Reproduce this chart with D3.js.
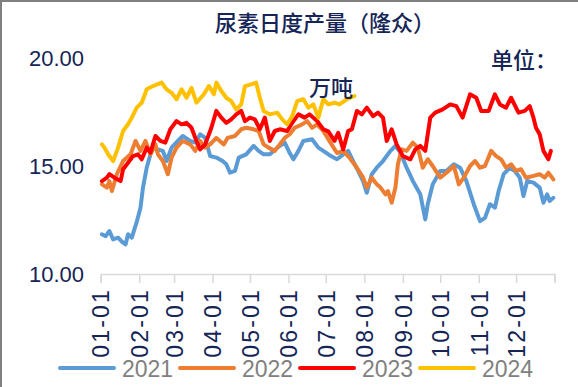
<!DOCTYPE html>
<html>
<head>
<meta charset="utf-8">
<script src="https://cdn.jsdelivr.net/npm/d3@7"></script>
<style>
  body { margin: 0; background: #fff; }
  svg { display: block; font-family: "Liberation Sans", Arial, "Noto Sans CJK SC", sans-serif; }
</style>
</head>
<body>
<svg id="chart" width="578" height="387"></svg>
<script>
// day-of-year readings, [day, value] (万吨)
const s2021 = [[1,11.84],[4,11.75],[7,11.99],[10,11.6],[14,11.68],[17,11.5],[20,11.37],[22,11.84],[25,11.68],[29,12.42],[32,13.07],[34,14.0],[37,14.92],[40,15.54],[42,15.85],[46,15.77],[50,15.7],[53,15.23],[57,15.85],[62,16.16],[66,16.39],[72,16.16],[76,16.08],[80,16.47],[84,16.3],[88,15.46],[93,15.39],[98,15.23],[101,15.08],[104,14.69],[108,14.77],[111,15.39],[117,15.54],[123,15.93],[127,15.7],[131,15.54],[136,15.54],[142,15.85],[148,16.08],[152,15.6],[155,15.31],[159,15.7],[163,16.16],[170,16.24],[175,15.85],[179,15.7],[184,15.5],[190,15.31],[195,15.54],[199,15.7],[203,15.23],[207,14.77],[211,14.3],[214,13.76],[218,14.62],[222,14.92],[227,15.23],[233,15.7],[237,15.93],[241,15.62],[246,14.92],[251,14.31],[257,13.69],[261,12.53],[263,13.23],[267,14.15],[273,14.77],[278,14.77],[284,15.08],[289,14.92],[294,14.31],[300,13.23],[305,12.45],[309,12.6],[313,13.23],[317,13.07],[320,13.84],[324,14.62],[329,14.92],[333,14.77],[337,14.46],[340,13.61],[343,14.31],[348,14.23],[353,14.0],[356,13.3],[359,13.69],[361,13.38],[364,13.53]];
const s2022 = [[1,14.15],[5,14.0],[7,14.3],[9,13.84],[13,14.62],[18,15.23],[24,15.54],[28,16.16],[32,15.7],[36,16.16],[40,15.54],[44,16.0],[46,15.54],[50,15.23],[54,14.62],[57,15.39],[61,15.85],[66,16.16],[72,16.0],[76,15.7],[80,16.16],[84,15.85],[88,16.0],[93,16.3],[99,16.0],[102,16.3],[108,16.39],[113,16.7],[117,16.77],[123,16.7],[127,16.62],[131,16.0],[135,15.85],[140,15.7],[144,16.0],[148,16.3],[152,16.47],[156,16.77],[162,16.93],[166,17.08],[170,16.77],[174,16.93],[179,16.62],[184,16.15],[190,15.6],[195,15.7],[200,15.39],[206,14.92],[211,14.46],[214,14.0],[218,14.46],[222,14.15],[225,14.0],[229,13.69],[231,13.84],[234,13.3],[237,14.0],[239,15.08],[242,15.77],[246,15.7],[251,16.08],[255,15.85],[259,14.92],[263,15.31],[267,15.0],[273,14.46],[278,14.69],[284,15.0],[288,14.15],[292,14.46],[297,15.0],[301,15.23],[305,14.92],[309,15.0],[314,15.7],[318,15.46],[322,15.31],[326,14.92],[330,15.08],[334,14.77],[338,14.85],[342,14.46],[348,14.54],[353,14.62],[357,14.46],[360,14.69],[364,14.38]];
const s2023 = [[1,14.3],[5,14.46],[7,14.62],[11,14.46],[16,14.3],[18,14.85],[22,15.15],[26,15.46],[30,15.54],[33,15.31],[37,15.85],[40,15.62],[44,16.39],[48,16.16],[52,16.08],[56,16.7],[61,17.08],[65,16.93],[69,17.0],[73,16.77],[77,16.16],[80,15.77],[84,16.0],[89,16.77],[93,17.55],[97,17.24],[101,17.0],[105,17.16],[109,17.39],[113,17.55],[116,17.08],[120,17.24],[124,17.16],[128,16.7],[132,17.24],[136,16.16],[140,16.62],[144,16.7],[150,16.62],[154,17.0],[159,17.39],[164,17.24],[168,17.39],[174,17.08],[179,16.7],[183,16.6],[188,16.16],[191,16.54],[195,15.77],[199,16.62],[202,16.7],[206,17.55],[210,17.39],[214,17.7],[219,17.31],[223,17.47],[227,17.24],[230,16.16],[234,16.7],[238,16.0],[243,15.46],[249,15.31],[253,15.77],[257,15.93],[261,15.7],[265,17.24],[269,17.47],[275,17.62],[281,17.85],[286,17.77],[291,17.24],[297,18.32],[302,18.16],[306,17.55],[312,17.55],[317,18.32],[321,17.85],[326,17.7],[330,18.16],[336,17.47],[341,17.55],[345,17.77],[348,17.24],[350,16.77],[353,16.47],[356,15.7],[360,15.31],[362,15.7]];
const s2024 = [[1,16.0],[3,15.85],[6,15.54],[10,15.23],[14,15.85],[18,16.62],[22,16.93],[25,17.24],[29,17.7],[33,17.93],[37,18.55],[42,18.7],[49,18.86],[53,18.55],[57,18.39],[61,18.09],[65,18.55],[69,18.16],[73,18.62],[77,17.93],[83,18.32],[87,18.7],[91,18.32],[93,18.86],[97,18.47],[101,18.16],[105,18.0],[109,17.62],[113,17.85],[116,18.7],[121,18.78],[125,18.86],[128,18.16],[131,17.55],[136,17.39],[142,17.47],[146,17.16],[150,16.93],[154,17.31],[158,18.0],[163,18.09],[167,17.7],[171,17.85],[175,17.24],[179,18.09],[183,17.85],[188,17.93],[192,17.85],[198,18.09],[204,18.24]];

const years = ["2021", "2022", "2023", "2024"];
const colors = ["#5B9BD5", "#ED7D31", "#FF0000", "#FFC000"];
const series = [s2021, s2022, s2023, s2024];
const yTicks = [10, 15, 20];

const svg = d3.select("#chart");
const navy = "#142556";

// chart frame (top + left edges visible)
svg.append("path").attr("d", "M1,387V1H578").attr("fill", "none").attr("stroke", "#808080").attr("stroke-width", 2);

const start = new Date(2021, 0, 1), end = new Date(2022, 0, 1);
const x = d3.scaleTime().domain([start, end]).range([100.7, 554.6]);
const y = d3.scaleLinear().domain([10, 20]).range([274, 58]);
const toDate = d => new Date(2021, 0, 1 + d);

// title
svg.append("text").attr("x", 325).attr("y", 31).attr("text-anchor", "middle")
  .attr("font-size", 22).attr("fill", navy).attr("font-family", "Noto Sans CJK SC")
  .attr("font-weight", 500).text("尿素日度产量（隆众）");

// y labels
svg.append("g").selectAll("text").data(yTicks).join("text")
  .attr("x", 84).attr("y", d => y(d)).attr("dy", "0.35em").attr("text-anchor", "end")
  .attr("font-size", 22).attr("fill", navy).text(d3.format(".2f"));

// x axis
const months = d3.timeMonth.range(start, d3.timeDay.offset(end, 1));
const xAxis = svg.append("g").attr("transform", "translate(0,274)")
  .call(d3.axisBottom(x).tickValues(months).tickSizeOuter(0).tickSize(9)
    .tickFormat(d => d.getFullYear() === 2021 ? d3.timeFormat("%m-%d")(d) : ""));
xAxis.select(".domain").attr("stroke", "#D9D9D9").attr("stroke-width", 1.5);
xAxis.selectAll(".tick line").attr("stroke", "#D9D9D9").attr("stroke-width", 1.5);
xAxis.selectAll(".tick text")
  .attr("transform", "rotate(-90)").attr("x", -14).attr("y", 0).attr("dy", "0.36em")
  .attr("text-anchor", "end").attr("font-size", 23).attr("fill", navy)
  .attr("font-family", "Liberation Sans").attr("letter-spacing", 2.2);

// lines
const line = d3.line().x(d => x(toDate(d[0]))).y(d => y(d[1]));
svg.append("g").selectAll("path").data(series).join("path")
  .attr("d", line).attr("fill", "none")
  .attr("stroke", (d, i) => colors[i]).attr("stroke-width", 4)
  .attr("stroke-linejoin", "round").attr("stroke-linecap", "round");

// unit label
svg.append("text").attr("x", 491).attr("y", 68).attr("font-size", 22).attr("fill", navy)
  .attr("font-family", "Noto Sans CJK SC").attr("font-weight", 500).text("单位：");
svg.append("text").attr("x", 309).attr("y", 96).attr("font-size", 22).attr("fill", navy)
  .attr("font-family", "Noto Sans CJK SC").attr("font-weight", 500).text("万吨");

// legend
const legend = svg.append("g").selectAll("g").data(years).join("g")
  .attr("transform", (d, i) => `translate(${60 + i * 120},368)`);
legend.append("line").attr("x1", 0).attr("x2", 54)
  .attr("stroke", (d, i) => colors[i]).attr("stroke-width", 4).attr("stroke-linecap", "round");
legend.append("text").attr("x", 62).attr("y", 9).attr("font-size", 23)
  .attr("fill", "#808080").text(d => d);
</script>
</body>
</html>
